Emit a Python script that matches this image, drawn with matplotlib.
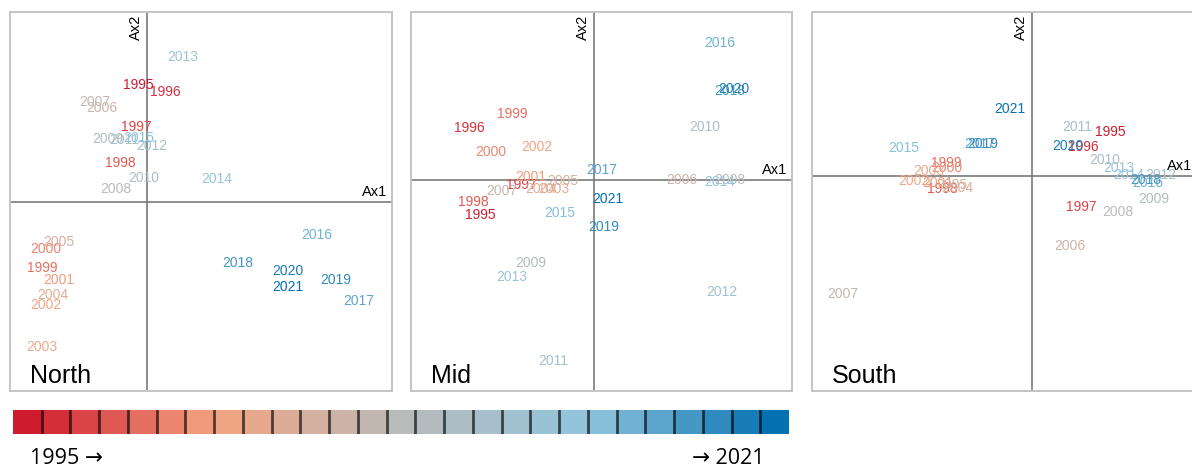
import numpy as np
import matplotlib
matplotlib.use("Agg")
import matplotlib.pyplot as plt
from matplotlib.colors import LinearSegmentedColormap

years = [1995, 1996, 1997, 1998, 1999, 2000, 2001, 2002, 2003, 2004,
         2005, 2006, 2007, 2008, 2009, 2010, 2011, 2012, 2013, 2014,
         2015, 2016, 2017, 2018, 2019, 2020, 2021]

# ordination scores per region (Ax1, Ax2), one entry per year
north_x = [-0.085, 0.188, -0.103, -0.262, -1.045, -1.012, -0.885, -1.015, -1.048, -0.945,
           -0.885, -0.450, -0.525, -0.308, -0.395, -0.032, -0.230, 0.047, 0.358, 0.695,
           -0.080, 1.700, 2.120, 0.908, 1.885, 1.413, 1.410]
north_y = [1.170, 1.097, 0.747, 0.387, -0.660, -0.473, -0.780, -1.033, -1.447, -0.927,
           -0.397, 0.937, 0.997, 0.127, 0.627, 0.243, 0.620, 0.563, 1.453, 0.227,
           0.643, -0.327, -0.993, -0.607, -0.780, -0.687, -0.847]

mid_x = [-1.138, -1.248, -0.723, -1.205, -0.822, -1.035, -0.628, -0.573, -0.400, -0.530,
         -0.307, 0.878, -0.922, 1.355, -0.635, 1.110, -0.405, 1.282, -0.825, 1.262,
         -0.345, 1.255, 0.082, 1.360, 0.098, 1.400, 0.138]
mid_y = [-0.350, 0.523, -0.050, -0.217, 0.657, 0.283, 0.033, 0.333, -0.093, -0.093,
         -0.010, -0.003, -0.110, 0.000, -0.827, 0.533, -1.807, -1.117, -0.967, -0.023,
         -0.333, 1.367, 0.100, 0.893, -0.473, 0.907, -0.193]

south_x = [0.788, 0.518, 0.498, -0.895, -0.857, -0.853, -0.945, -1.185, -1.035, -0.745,
           -0.800, 0.380, -1.887, 0.862, 1.213, 0.732, 0.447, 1.288, 0.863, 0.972,
           -1.287, 1.158, -0.518, 1.138, -0.495, 0.355, -0.218]
south_y = [0.443, 0.287, -0.307, -0.130, 0.127, 0.083, -0.067, -0.050, 0.050, -0.117,
           -0.090, -0.700, -1.183, -0.363, -0.233, 0.160, 0.493, 0.010, 0.077, 0.010,
           0.283, -0.073, 0.317, -0.040, 0.317, 0.303, 0.670]

regions = ["North", "Mid", "South"]

cmap = LinearSegmentedColormap.from_list(
    "years", ["#CF1B2E", "#F4A582", "#BABABA", "#92C5DE", "#0571B0"])

W, H = 1192, 467
fig = plt.figure(figsize=(W / 100, H / 100), dpi=100)


def px_axes(x0, y0, x1, y1):
    # axes from pixel box (top-left origin)
    return fig.add_axes([x0 / W, 1 - y1 / H, (x1 - x0) / W, (y1 - y0) / H])


panels = [
    (north_x, north_y, (10, 12, 392, 391), (-1.37, 2.45), (-1.89, 1.90)),
    (mid_x, mid_y, (411, 12, 792, 391), (-1.83, 1.98), (-2.11, 1.68)),
    (south_x, south_y, (812, 12, 1197, 391), (-2.20, 1.65), (-2.15, 1.64)),
]

for name, (xs, ys, box, xl, yl) in zip(regions, panels):
    ax = px_axes(*box)
    ax.set_xlim(*xl)
    ax.set_ylim(*yl)
    ax.set_xticks([])
    ax.set_yticks([])
    for s in ax.spines.values():
        s.set_color("#c4c4c4")
        s.set_linewidth(1.4)
    ax.axhline(0, color="#7a7a7a", lw=1.2, zorder=1)
    ax.axvline(0, color="#7a7a7a", lw=1.2, zorder=1)

    for yr, x, y in zip(years, xs, ys):
        c = cmap((yr - years[0]) / (years[-1] - years[0]))
        ax.text(x, y, str(yr), color=c, fontsize=10, family="Liberation Sans",
                ha="center", va="center", zorder=3)

    ax.annotate("Ax1", xy=(1, 0), xycoords=("axes fraction", "data"),
                xytext=(-5, 3), textcoords="offset pixels",
                ha="right", va="bottom", fontsize=10.5, family="Liberation Sans")
    ax.annotate("Ax2", xy=(0, 1), xycoords=("data", "axes fraction"),
                xytext=(-4, -3), textcoords="offset pixels", rotation=90,
                ha="right", va="top", fontsize=10.5, family="Liberation Sans")
    ax.text(20 / (box[2] - box[0]), 8 / (box[3] - box[1]), name,
            transform=ax.transAxes, ha="left", va="baseline",
            fontsize=18, family="Liberation Sans")

# year colour strip
cax = px_axes(13, 410, 789, 434)
n = len(years)
cax.imshow(np.arange(n)[None, :], cmap=cmap, aspect="auto",
           extent=(-0.5, n - 0.5, 0, 1), interpolation="nearest")
for i in range(1, n):
    cax.axvline(i - 0.5, color="black", lw=2.0, alpha=0.65)
cax.set_xlim(-0.5, n - 0.5)
cax.set_xticks([])
cax.set_yticks([])
for s in cax.spines.values():
    s.set_visible(False)

fig.text(30 / W, 1 - 458 / H, f"{years[0]} \u2192", ha="left", va="center",
         fontsize=15.5, family=["Open Sans", "DejaVu Sans"])
fig.text(765 / W, 1 - 458 / H, f"\u2192 {years[-1]}", ha="right", va="center",
         fontsize=15.5, family=["Open Sans", "DejaVu Sans"])

fig.savefig("out.png", dpi=100)
